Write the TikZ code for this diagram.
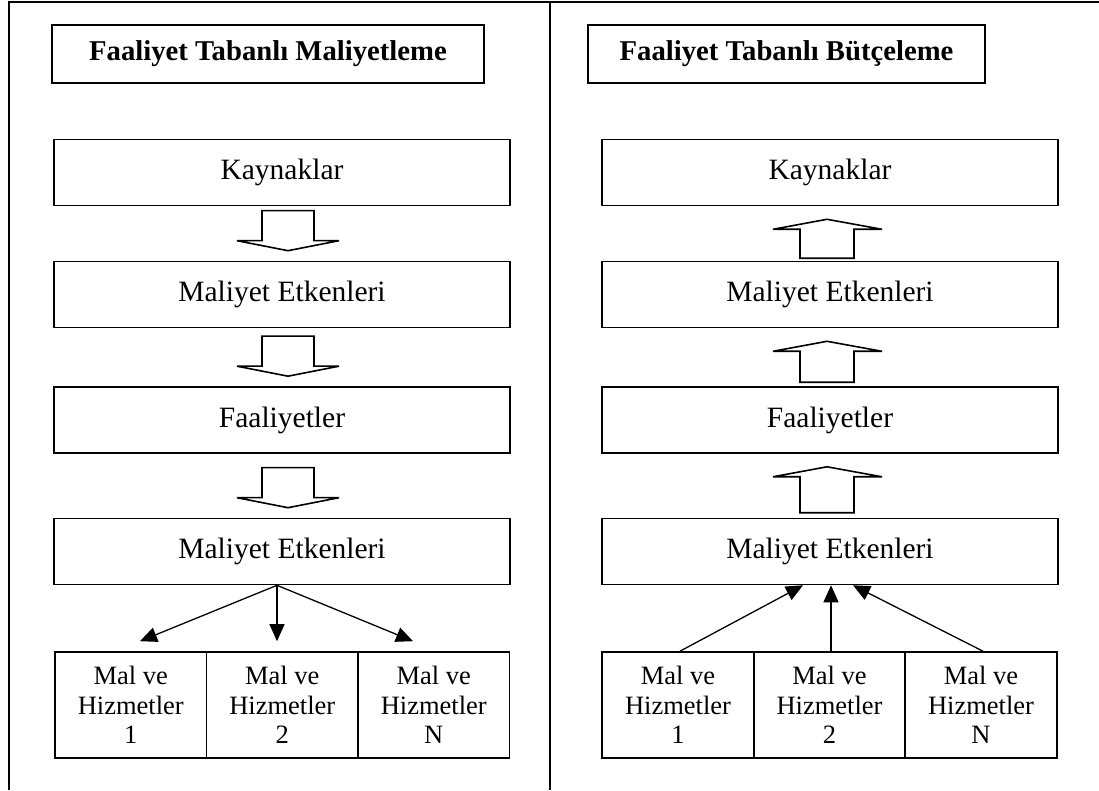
\documentclass[tikz,border=0pt]{standalone}
\usepackage{fontspec}
\setmainfont{Liberation Serif}
\usetikzlibrary{arrows.meta}

\tikzset{
  kutu/.style={draw, line width=1.6pt, minimum width=456pt, minimum height=66pt,
    inner sep=0pt, font=\fontsize{29.5}{33}\selectfont},
  baslik/.style={draw, line width=1.6pt, minimum height=58pt, inner sep=0pt,
    font=\fontsize{28.7}{32}\selectfont\bfseries},
  malkutu/.style={draw, line width=1.6pt, minimum width=151.5pt, minimum height=106pt,
    inner sep=0pt, align=center, font=\fontsize{26.5}{29.5}\selectfont},
  blok/.style={line width=1.6pt, line join=miter},
  ok/.style={line width=1.3pt, -{Triangle[length=17pt,width=15pt]}}
}

\begin{document}
\begin{tikzpicture}[x=1pt, y=1pt]
  \useasboundingbox (0,0) rectangle (1099,790);
  % Outer frame and the divider between the two halves.
  \draw[line width=1.6pt] (9,0) -- (9,788) -- (1099,788);
  \draw[line width=1.6pt] (550,0) -- (550,788);

  % Left half: costing, flow goes down.
  \node[baslik, minimum width=432pt] (baslikL) at (268,736) {Faaliyet Tabanlı Maliyetleme};
  \node[kutu] (kaynakL) at (282,617.5) {Kaynaklar};
  \node[kutu] (etkenL)  at (282,495.5) {Maliyet Etkenleri};
  \node[kutu] (faalL)   at (282,370)   {Faaliyetler};
  \node[kutu] (etken2L) at (282,238.5) {Maliyet Etkenleri};
  \node[malkutu] (mal1L) at (130.75,85) {Mal ve\\Hizmetler\\1};
  \node[malkutu] (mal2L) at (282.25,85) {Mal ve\\Hizmetler\\2};
  \node[malkutu] (malNL) at (433.75,85) {Mal ve\\Hizmetler\\N};

  % Block arrows pointing down.
  \draw[blok, shift={(etkenL.north)}] (-20,50) -- (-20,20) -- (-45,20) -- (6,10) -- (57,20) -- (32,20) -- (32,50) -- cycle;
  \draw[blok, shift={(faalL.north)}] (-20,50) -- (-20,20) -- (-45,20) -- (6,10) -- (57,20) -- (32,20) -- (32,50) -- cycle;
  \draw[blok, shift={(etken2L.north)}] (-20,50) -- (-20,20) -- (-45,20) -- (6,10) -- (57,20) -- (32,20) -- (32,50) -- cycle;

  \draw[ok] ([xshift=-5pt]etken2L.south) -- ([xshift=9.25pt,yshift=10pt]mal1L.north);
  \draw[ok] ([xshift=-5pt]etken2L.south) -- ([xshift=-5.25pt,yshift=10pt]mal2L.north);
  \draw[ok] ([xshift=-5pt]etken2L.south) -- ([xshift=-20.75pt,yshift=10pt]malNL.north);

  % Right half: budgeting, flow goes up.
  \node[baslik, minimum width=397pt] (baslikR) at (786.5,736) {Faaliyet Tabanlı Bütçeleme};
  \node[kutu] (kaynakR) at (830,617.5) {Kaynaklar};
  \node[kutu] (etkenR)  at (830,495.5) {Maliyet Etkenleri};
  \node[kutu] (faalR)   at (830,370)   {Faaliyetler};
  \node[kutu] (etken2R) at (830,238.5) {Maliyet Etkenleri};
  \node[malkutu] (mal1R) at (678,85)   {Mal ve\\Hizmetler\\1};
  \node[malkutu] (mal2R) at (829.5,85) {Mal ve\\Hizmetler\\2};
  \node[malkutu] (malNR) at (981,85)   {Mal ve\\Hizmetler\\N};

  % Block arrows pointing up.
  \draw[blok, shift={(kaynakR.south)}] (-30,-52) -- (-30,-23) -- (-57,-23) -- (-3,-13) -- (52,-23) -- (24,-23) -- (24,-52) -- cycle;
  \draw[blok, shift={(etkenR.south)}] (-30,-54) -- (-30,-23) -- (-57,-23) -- (-3,-13) -- (52,-23) -- (24,-23) -- (24,-54) -- cycle;
  \draw[blok, shift={(faalR.south)}] (-30,-59) -- (-30,-23) -- (-57,-23) -- (-3,-13) -- (52,-23) -- (24,-23) -- (24,-59) -- cycle;

  \draw[ok] ([xshift=2pt]mal1R.north) -- ([xshift=-27pt]etken2R.south);
  \draw[ok] ([xshift=1.5pt]mal2R.north) -- ([xshift=1pt]etken2R.south);
  \draw[ok] ([xshift=2pt]malNR.north) -- ([xshift=23pt]etken2R.south);
\end{tikzpicture}
\end{document}
